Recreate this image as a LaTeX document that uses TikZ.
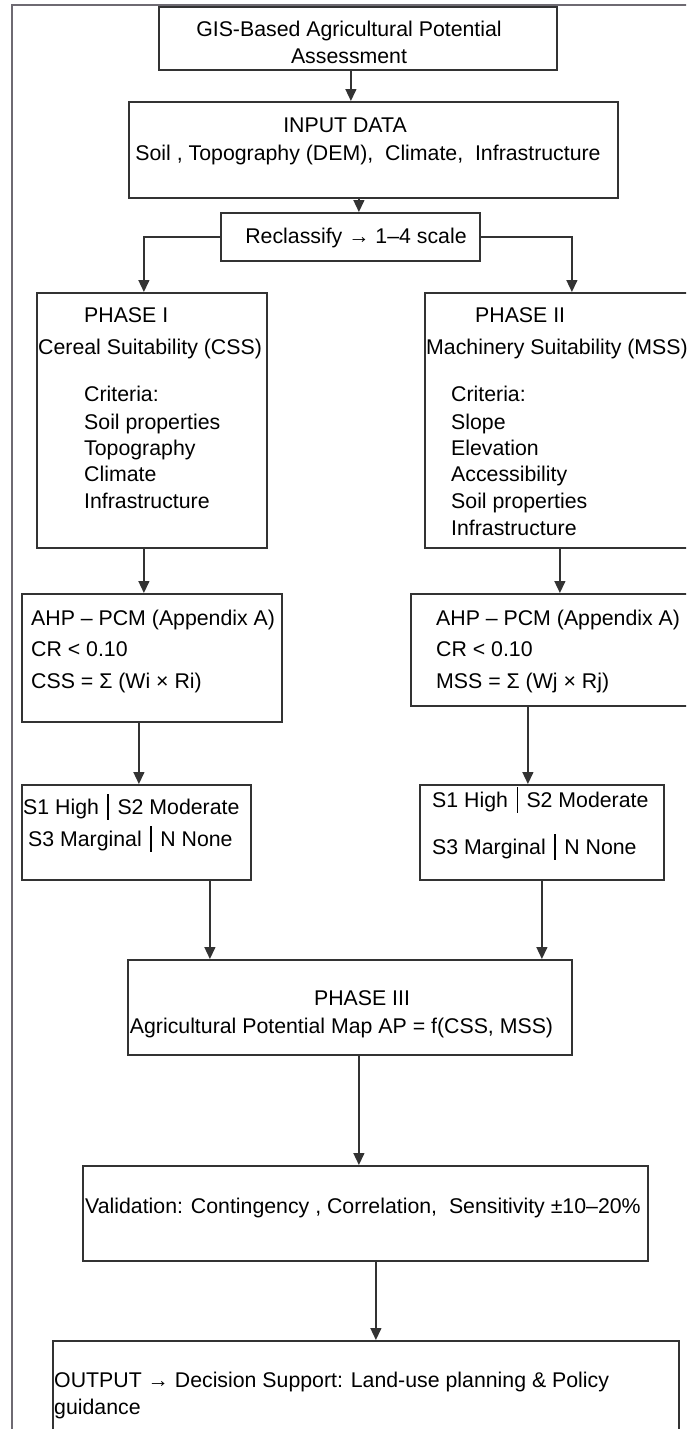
\documentclass[tikz,border=0pt]{standalone}
\usepackage{fontspec}
\setmainfont{Liberation Sans}
\usetikzlibrary{arrows.meta}
\definecolor{boxc}{HTML}{333333}
\definecolor{framec}{HTML}{6E6A72}
\begin{document}
\begin{tikzpicture}[x=1pt,y=-1pt,
  box/.style={draw=boxc,line width=1.8pt,inner sep=0pt,anchor=north west},
  txt/.style={inner sep=0pt,font=\fontsize{21.3}{24}\selectfont,text=black},
  tl/.style={txt,anchor=base west},
  tc/.style={txt,anchor=base},
  arr/.style={draw=boxc,line width=1.4pt,-{Triangle[length=12pt,width=11pt]}},
  ln/.style={draw=boxc,line width=1.4pt}]
\useasboundingbox (0,0) rectangle (686,1429);
\clip (0,0) rectangle (686,1429);
\fill[white] (0,0) rectangle (686,1429);
% outer frame
\draw[framec,line width=1.6pt] (12,1440) -- (12,5) -- (700,5);
\newcommand{\sep}{\hspace{0.4em}\rule[-0.25em]{1.5pt}{1.2em}\hspace{0.4em}}
% boxes
\node[box,minimum width=398pt,minimum height=63pt] (title) at (158,6) {};
\node[box,minimum width=489pt,minimum height=96pt] (input) at (128,101) {};
\node[box,minimum width=259pt,minimum height=48pt] (recl) at (220,212) {};
\node[box,minimum width=230pt,minimum height=255pt] (p1) at (36,292) {};
\node[box,minimum width=276pt,minimum height=255pt] (p2) at (424,292) {};
\node[box,minimum width=260pt,minimum height=128pt] (a1) at (21,593) {};
\node[box,minimum width=290pt,minimum height=112pt] (a2) at (410,593) {};
\node[box,minimum width=229pt,minimum height=95pt] (s1) at (21,784) {};
\node[box,minimum width=244pt,minimum height=95pt] (s2) at (419,784) {};
\node[box,minimum width=444pt,minimum height=95pt] (p3) at (127,959) {};
\node[box,minimum width=565pt,minimum height=95pt] (val) at (82,1165) {};
\node[box,minimum width=626pt,minimum height=120pt] (out) at (52,1340) {};
% texts
\node[tc] (t1) at (349,36.5) {GIS-Based Agricultural Potential};
\node[tc] (t2) at (349,63.5) {Assessment};
\node[tc] (i1) at (345,132.5) {INPUT DATA};
\node[tc] (i2) at (368,160.5) {Soil , Topography (DEM),\ \ Climate,\ \ Infrastructure};
\node[tc] (r1) at (356,243.5) {Reclassify \textrightarrow\ 1–4 scale};
\node[tl] (pa1) at (84,322.5) {PHASE I};
\node[tl] (pa2) at (38,354.5) {Cereal Suitability (CSS)};
\node[tl] (pa3) at (84,401.5) {Criteria:};
\node[tl] (pa4) at (84,429.5) {Soil properties};
\node[tl] (pa5) at (84,455.5) {Topography};
\node[tl] (pa6) at (84,481.5) {Climate};
\node[tl] (pa7) at (84,508.5) {Infrastructure};
\node[tl] (pb1) at (475,322.5) {PHASE II};
\node[tl] (pb2) at (426,354.5) {Machinery Suitability (MSS)};
\node[tl] (pb3) at (451,401.5) {Criteria:};
\node[tl] (pb4) at (451,429.5) {Slope};
\node[tl] (pb5) at (451,455.5) {Elevation};
\node[tl] (pb6) at (451,481.5) {Accessibility};
\node[tl] (pb7) at (451,508.5) {Soil properties};
\node[tl] (pb8) at (451,535.5) {Infrastructure};
\node[tl] (aa1) at (31,625.5) {AHP – PCM (Appendix A)};
\node[tl] (aa2) at (31,656.5) {CR < 0.10};
\node[tl] (aa3) at (31,688.5) {CSS = Σ (Wi × Ri)};
\node[tl] (ab1) at (436,625.5) {AHP – PCM (Appendix A)};
\node[tl] (ab2) at (436,656.5) {CR < 0.10};
\node[tl] (ab3) at (436,688.5) {MSS = Σ (Wj × Rj)};
\node[tl] (sa1) at (23,814.5) {S1 High\sep S2 Moderate};
\node[tl] (sa2) at (28,846.5) {S3 Marginal\sep N None};
\node[tl] (sb1) at (432,807.5) {S1 High\sep S2 Moderate};
\node[tl] (sb2) at (432,854.5) {S3 Marginal\sep N None};
\node[tc] (pc1) at (362,1005.5) {PHASE III};
\node[tc] (pc2) at (341.5,1033.5) {Agricultural Potential Map AP = f(CSS, MSS)};
\node[tl] (v1) at (85,1213.5) {Validation: Contingency , Correlation,\ \ Sensitivity ±10–20\%};
\node[tl] (o1) at (54,1387.5) {OUTPUT \textrightarrow\ Decision Support: Land-use planning \& Policy};
\node[tl] (o2) at (54,1414.5) {guidance};
% connectors
\draw[arr] ([xshift=-7pt]title.south) -- ([xshift=-7pt]title.south |- input.north);
\draw[arr] ([xshift=-14.5pt]input.south) -- ([xshift=-14.5pt]input.south |- recl.north);
\draw[arr] (recl.west) -| ([xshift=-8pt]p1.north);
\draw[arr] (recl.east) -| ([xshift=9pt]p2.north);
\draw[arr] ([xshift=-8pt]p1.south) -- ([xshift=-8pt]p1.south |- a1.north);
\draw[arr] ([xshift=-3pt]p2.south) -- ([xshift=-3pt]p2.south |- a2.north);
\draw[arr] ([xshift=-13pt]a1.south) -- ([xshift=-13pt]a1.south |- s1.north);
\draw[arr] ([xshift=-28pt]a2.south) -- ([xshift=-28pt]a2.south |- s2.north);
\draw[arr] ([xshift=73.5pt]s1.south) -- ([xshift=73.5pt]s1.south |- p3.north);
\draw[arr] (s2.south) -- (s2.south |- p3.north);
\draw[arr] ([xshift=9pt]p3.south) -- ([xshift=9pt]p3.south |- val.north);
\draw[arr] ([xshift=10.5pt]val.south) -- ([xshift=10.5pt]val.south |- out.north);
\end{tikzpicture}
\end{document}
